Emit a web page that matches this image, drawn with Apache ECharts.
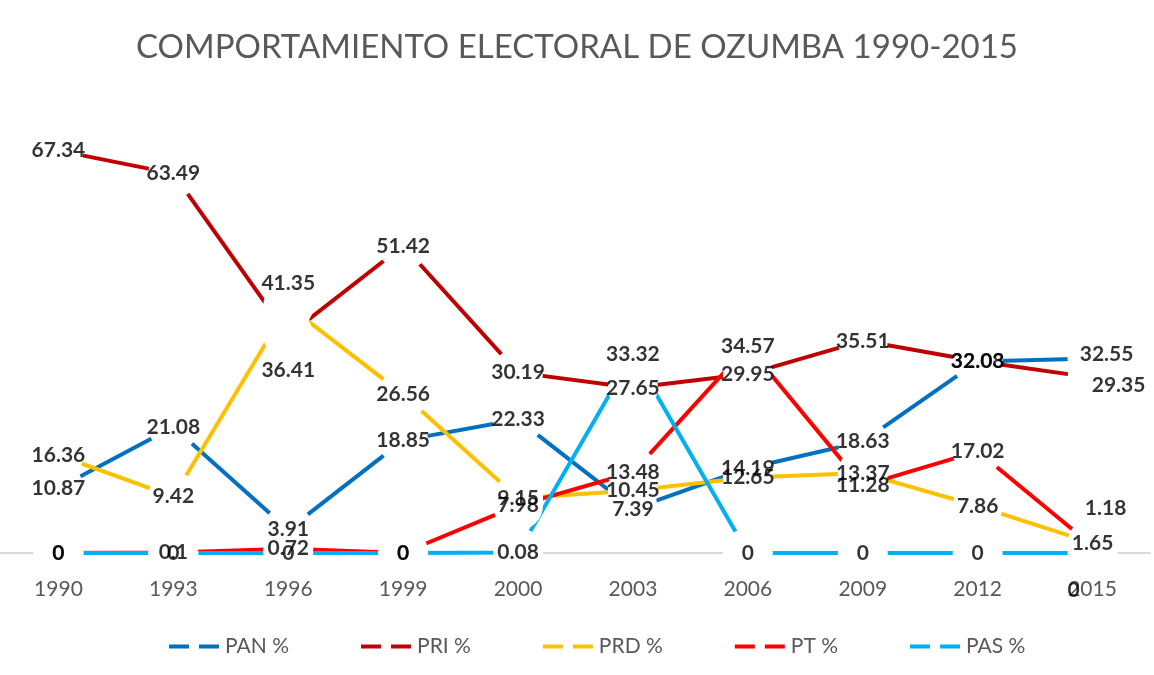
<!DOCTYPE html>
<html>
<head>
<meta charset="utf-8">
<script src="https://cdn.jsdelivr.net/npm/echarts@6/dist/echarts.min.js"></script>
<style>
  html, body { margin: 0; padding: 0; background: #fff; }
  #chart { width: 1154px; height: 675px; }
</style>
</head>
<body>
<div id="chart"></div>
<script>
const years = ['1990', '1993', '1996', '1999', '2000', '2003', '2006', '2009', '2012', '2015'];
const pan = [10.87, 21.08, 3.91, 18.85, 22.33, 7.39, 14.19, 18.63, 32.03, 32.55];
const pri = [67.34, 63.49, 36.41, 51.42, 30.19, 27.65, 29.95, 35.51, 32.08, 29.35];
const prd = [16.36, 9.42, 41.35, 26.56, 9.15, 10.45, 12.65, 13.37, 7.86, 1.65];
const pt = [0, 0.1, 0.72, 0, 7.98, 13.48, 34.57, 11.28, 17.02, 1.18];
const pas = [0, 0, 0, 0, 0.08, 33.32, 0, 0, 0, 0];

const parties = [
  { name: 'PAN %', data: pan, color: '#0070C0' },
  { name: 'PRI %', data: pri, color: '#C00000' },
  { name: 'PRD %', data: prd, color: '#FFC000' },
  { name: 'PT %', data: pt, color: '#FF0000' },
  { name: 'PAS %', data: pas, color: '#00B0F0' }
];

// labels that were nudged by hand in the original
const labelOffsets = {
  'PRI %': { 2: [0, 35], 9: [26, 8] },
  'PRD %': { 2: [0, -23] },
  'PAN %': { 9: [14, -4] },
  'PT %': { 9: [13, -38] },
  'PAS %': { 9: [-19, 37] }
};

const font = 'Lato, "Liberation Sans", sans-serif';

const lineSeries = parties.map(p => ({
  name: p.name,
  type: 'line',
  data: p.data,
  symbol: 'circle',
  symbolSize: 50,
  showSymbol: true,
  showAllSymbol: true,
  itemStyle: { color: '#fff', borderWidth: 0 },
  lineStyle: { color: p.color, width: 4 },
  emphasis: { disabled: true },
  z: 2
}));

const labelSeries = parties.map(p => ({
  name: p.name + ' label',
  type: 'scatter',
  symbolSize: 1,
  itemStyle: { color: 'rgba(0,0,0,0)' },
  z: 10,
  silent: true,
  data: p.data.map((v, i) => {
    const off = (labelOffsets[p.name] || {})[i];
    return off ? { value: v, label: { offset: off } } : { value: v };
  }),
  label: {
    show: true,
    position: 'inside',
    color: '#000',
    fontFamily: font,
    fontWeight: 'bold',
    fontSize: 21,
    formatter: params => String(params.value)
  }
}));

const chart = echarts.init(document.getElementById('chart'));
chart.setOption({
  animation: false,
  backgroundColor: '#fff',
  title: {
    text: 'COMPORTAMIENTO ELECTORAL DE OZUMBA 1990-2015',
    left: 'center',
    top: 26,
    textStyle: { color: '#595959', fontFamily: font, fontWeight: 'normal', fontSize: 33 }
  },
  legend: {
    data: parties.map(p => ({ name: p.name, itemStyle: { color: p.color } })),
    left: 164,
    top: 631,
    icon: 'path://M0,0 H20 V4 H0 Z M30,0 H50 V4 H30 Z',
    itemWidth: 52,
    itemHeight: 4,
    itemGap: 72,
    textStyle: { color: '#595959', fontFamily: font, fontSize: 21 }
  },
  grid: { left: 1, right: 4, top: 75, bottom: 122 },
  xAxis: {
    type: 'category',
    data: years,
    boundaryGap: true,
    axisLine: { lineStyle: { color: '#d9d9d9', width: 2 } },
    axisTick: { show: false },
    axisLabel: { color: '#595959', fontFamily: font, fontSize: 21, margin: 26 },
    splitLine: { show: false }
  },
  yAxis: {
    type: 'value',
    min: 0,
    max: 80,
    show: false
  },
  series: lineSeries.concat(labelSeries)
});
</script>
</body>
</html>
